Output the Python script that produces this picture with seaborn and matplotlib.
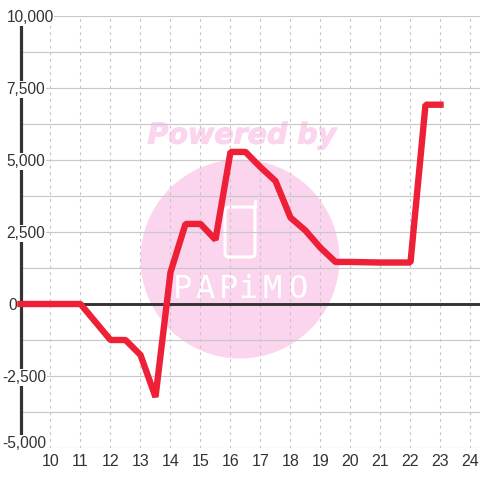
import matplotlib
matplotlib.use("Agg")
import matplotlib.pyplot as plt
import seaborn as sns
import pandas as pd
import matplotlib.patheffects as pe
from matplotlib.patches import Circle, FancyBboxPatch
from matplotlib.transforms import IdentityTransform, blended_transform_factory

hours = [9, 10, 11, 12, 12.5, 13, 13.5, 14, 14.5, 15, 15.5, 16, 16.5, 17, 17.5, 18, 18.5, 19, 19.5, 20, 21, 22, 22.5, 23]
values = [0, 0, 0, -1250, -1250, -1770, -3230, 1100, 2780, 2780, 2230, 5280, 5280, 4750, 4270, 3000, 2550, 1950, 1460, 1460, 1440, 1440, 6920, 6920]
x_ticks = [10, 11, 12, 13, 14, 15, 16, 17, 18, 19, 20, 21, 22, 23, 24]
y_major = [-5000, -2500, 0, 2500, 5000, 7500, 10000]
y_grid = [-5000, -3750, -2500, -1250, 0, 1250, 2500, 3750, 5000, 6250, 7500, 8750, 10000]

sns.set_theme(style="white")
plt.rcParams["font.family"] = ["Liberation Sans", "DejaVu Sans"]
fig = plt.figure(figsize=(4.8, 4.8), dpi=100, facecolor="white")
ax = fig.add_axes([20.5 / 480, 32 / 480, (480 - 20.5) / 480, 432 / 480])
ax.set_xlim(9, 24.317)
ax.set_ylim(-5000, 10000)
for s in ax.spines.values():
    s.set_visible(False)

pink = "#FBD5EE"
T = IdentityTransform()
ax.add_patch(Circle((240, 480 - 259), 99.5, transform=T, fc=pink, ec="none", zorder=0.5, clip_on=False))
ax.add_patch(FancyBboxPatch((225, 480 - 257), 30, 50, boxstyle="round,pad=0,rounding_size=4", transform=T,
                            fc="none", ec="white", lw=2.2, zorder=0.7))
ax.plot([254.5, 254.5], [480 - 207, 480 - 201], transform=T, color="white", lw=2.4, zorder=0.7, solid_capstyle="round")
ax.text(242 / 480, 1 - 135.5 / 480, "Powered by", color=pink, fontsize=20.5, fontweight="bold", fontstyle="italic",
        family="DejaVu Sans", ha="center", va="center", zorder=0.6, transform=fig.transFigure,
        path_effects=[pe.withStroke(linewidth=0.8, foreground=pink)])
for letter, px in zip("PAPiMO", [182, 205, 229, 248, 272, 298]):
    ax.text(px / 480, 1 - 289 / 480, letter, color="white", fontsize=23, family="DejaVu Sans Mono",
            ha="center", va="center", zorder=0.7, transform=fig.transFigure)

for v in x_ticks:
    ax.axvline(v, color="#C4C4C4", lw=0.8, ls=(0, (2.5, 3.5)), zorder=1)
for v in y_grid:
    ax.axhline(v, color="#C8C8C8", lw=0.85, zorder=1)

ax.plot([9, 9], [-4600, 9700], color="#333333", lw=2.3, solid_capstyle="butt", zorder=2, clip_on=False)
ax.axhline(0, color="#333333", lw=2.1, zorder=2)

df = pd.DataFrame({"hour": hours, "value": values})
sns.lineplot(data=df, x="hour", y="value", ax=ax, color="#EE2037", linewidth=4.6, zorder=3, errorbar=None,
             solid_joinstyle="bevel", solid_capstyle="projecting", clip_on=False)
ax.set_xlabel("")
ax.set_ylabel("")
ax.set_xticks(x_ticks)
ax.set_yticks([])
ax.tick_params(axis="x", length=0, pad=4.5, labelsize=11.5, labelcolor="#333333")

label_trans = blended_transform_factory(fig.transFigure, ax.transData)
for v in y_major:
    left = 2 if v < 0 else (8 if v == 0 else 6.5)
    shift = 4.5 if v == -5000 else -1.5
    ax.text(left / 480, v + shift * 15000 / 432, f"{v:,}", transform=label_trans,
            ha="left", va="center", fontsize=11.2, color="#333333", zorder=4, clip_on=False,
            bbox=dict(fc="white", ec="none", pad=0.5))

fig.savefig("out.png", dpi=100, facecolor="white")
